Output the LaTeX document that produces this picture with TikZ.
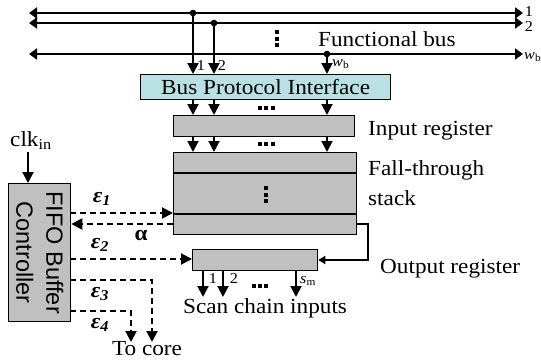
\documentclass[tikz,border=0pt]{standalone}
\usepackage{fontspec}
\setmainfont{Liberation Serif}[FakeStretch=1.08]
\setsansfont{Liberation Sans}
\usetikzlibrary{arrows.meta,calc}
\definecolor{boxgray}{RGB}{192,192,192}
\definecolor{bpicyan}{RGB}{185,225,228}
\tikzset{
  every node/.style={inner sep=0pt, font=\fontsize{21.5}{26}\selectfont},
  smalllab/.style={font=\fontsize{15}{17}\selectfont},
  greylbox/.style={draw, line width=1.3pt, fill=boxgray, anchor=north west, minimum height=#1},
  busline/.style={line width=2.6pt, {Triangle[length=8pt,width=11pt]}-{Triangle[length=8pt,width=11pt]}},
  arr/.style={line width=2pt, -{Triangle[length=11pt,width=11pt]}},
  smallarr/.style={line width=2pt, -{Triangle[length=7pt,width=8pt]}},
  dasharr/.style={line width=2pt, dash pattern=on 6pt off 4pt, -{Triangle[length=11pt,width=11pt]}},
}
\begin{document}
\begin{tikzpicture}[x=1pt,y=-1pt]
\useasboundingbox (0,0) rectangle (541,360);

% bus lines
\coordinate (b1L) at (29,13);  \coordinate (b1R) at (523,13);
\coordinate (b2L) at (29,23);  \coordinate (b2R) at (523,23);
\coordinate (bwL) at (29,54);  \coordinate (bwR) at (523,54);
\draw[busline] (b1L) -- (b1R);
\draw[busline] (b2L) -- (b2R);
\draw[busline] (bwL) -- (bwR);
\node[smalllab] (l1) at (529,12) {1};
\node[smalllab] (l2) at (529,27) {2};
\node[smalllab, anchor=west] (lw) at (524,57) {\textit{w}\textsubscript{b}};
\node[anchor=base west] (fbus) at (318,46) {Functional bus};
\foreach \yy in {32,38.5,45} \fill (275,\yy-2) rectangle (279,\yy+2);

% boxes
\node[draw, line width=1.3pt, fill=bpicyan, anchor=north west, minimum width=250pt, minimum height=25pt] (bpi) at (140,74) {};
\node (bpitext) at (bpi.center) {Bus Protocol Interface};
\node[greylbox=21pt, minimum width=181pt] (inreg) at (173,115) {};
\node[greylbox=82pt, minimum width=183pt] (stack) at (173,152) {};
\draw[line width=1.2pt] (173,173) -- (356,173);
\draw[line width=1.2pt] (173,214) -- (356,214);
\node[greylbox=21pt, minimum width=125pt] (outreg) at (192,249) {};
\node[greylbox=138pt, minimum width=62pt] (fifo) at (8,183) {};
\node[rotate=-90, align=center, font=\sffamily\fontsize{23.5}{30}\selectfont] (fifotext) at (fifo.center) {FIFO Buffer\\Controller};

% bus drops
\coordinate (d1) at (193,13);
\coordinate (d2) at (214,23);
\coordinate (dw) at (327,54);
\foreach \c in {d1,d2,dw} {
  \fill (\c) circle (3.3pt);
  \draw[arr] (\c) -- (\c |- bpi.north);
  \draw[arr] (\c |- bpi.south) -- (\c |- inreg.north);
  \draw[arr] (\c |- inreg.south) -- (\c |- stack.north);
}
\node[smalllab] (dl1) at (201,66) {1};
\node[smalllab] (dl2) at (222,66) {2};
\node[smalllab, anchor=west] (dlw) at (332,64) {\textit{w}\textsubscript{b}};
\foreach \xx in {259.5,266,272.5} {
  \fill (\xx-2,106) rectangle (\xx+2,110);
  \fill (\xx-2,142) rectangle (\xx+2,146);
}
\foreach \yy in {188,194.5,201} \fill (264,\yy-2) rectangle (268,\yy+2);

% right labels
\node[anchor=base west] (inlab) at (368,135) {Input register};
\node[anchor=base west] (ftlab) at (368,175) {Fall-through};
\node[anchor=base west] (stlab) at (368,205) {stack};
\node[anchor=base west] (outlab) at (380,273) {Output register};

% stack to output register
\coordinate (sOut) at (356,224);
\coordinate (turn1) at (368,224);
\coordinate (turn2) at (368,260);
\draw[smallarr] (sOut) -- (turn1) -- (turn2) -- (turn2 -| outreg.east);

% scan chain outputs
\coordinate (s1) at (203,270);
\coordinate (s2) at (223,270);
\coordinate (sm) at (296,270);
\foreach \c in {s1,s2,sm} \draw[arr] (\c) -- ++(0,27);
\node[smalllab] (sl1) at (213,279) {1};
\node[smalllab] (sl2) at (234,279) {2};
\node[smalllab, anchor=west] (slm) at (300,281) {\textit{s}\textsubscript{m}};
\foreach \xx in {253.5,259.5,265.5} \fill (\xx-2,284) rectangle (\xx+2,288);
\node[anchor=base west] (scanlab) at (183,313) {Scan chain inputs};

% clk
\node[anchor=base west] (clk) at (10,146) {clk\textsubscript{in}};
\coordinate (clkTop) at (28,152);
\draw[arr] (clkTop) -- (clkTop |- fifo.north);

% dashed control lines
\coordinate (e1) at (70,213);
\coordinate (al) at (173,224);
\coordinate (e2) at (70,259);
\coordinate (e3) at (70,280);
\coordinate (e3c) at (152,280);
\coordinate (e4) at (70,311);
\coordinate (e4c) at (131,311);
\coordinate (core3) at (152,342);
\coordinate (core4) at (131,342);
\draw[dasharr] (e1) -- (e1 -| stack.west);
\draw[dasharr] (al) -- (al -| fifo.east);
\draw[dasharr] (e2) -- (e2 -| outreg.west);
\draw[dasharr] (e3) -- (e3c) -- (core3);
\draw[dasharr] (e4) -- (e4c) -- (core4);
\node (le1) at (102,199) {\textbf{\textit{ε}\textsubscript{\textit{1}}}};
\node (lal) at (141,236) {\textbf{α}};
\node (le2) at (100,245) {\textbf{\textit{ε}\textsubscript{\textit{2}}}};
\node (le3) at (100,294) {\textbf{\textit{ε}\textsubscript{\textit{3}}}};
\node (le4) at (100,325) {\textbf{\textit{ε}\textsubscript{\textit{4}}}};
\node[anchor=base] (core) at (147,355) {To core};
\end{tikzpicture}
\end{document}
